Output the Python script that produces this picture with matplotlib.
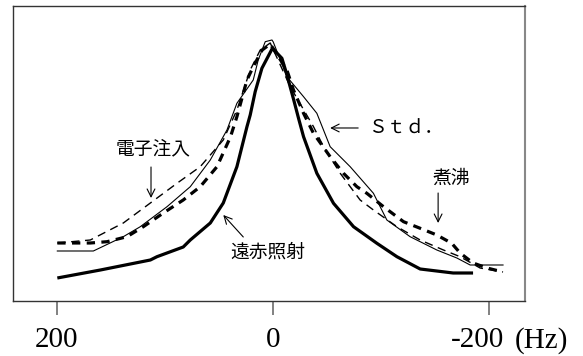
import matplotlib
matplotlib.use("Agg")
import matplotlib.pyplot as plt
from matplotlib.transforms import ScaledTranslation

plt.rcParams['font.family'] = ['Noto Sans CJK JP', 'DejaVu Sans']

# 周波数 (Hz) と強度 (任意単位)
# 遠赤照射 (太い実線)
far_ir_hz = [199.3, 159.5, 113.3, 107.2, 82.9, 76.4, 57.9, 45.9, 33.3, 24.0, 21.0, 16.4,
             10.2, 0.5, -8.3, -12.7, -19.0, -23.6, -28.3, -40.6, -56.0, -74.5, -96.1,
             -114.6, -136.1, -166.6, -185.0]
far_ir_val = [23, 31, 41, 44.3, 54, 61, 78, 98, 134.3, 174.3, 186, 209.3,
              232.7, 252.7, 242.7, 227, 202, 183, 164.3, 127.7, 97.7, 74.3, 57.7,
              44.3, 32, 28, 28]

# Std. (細い実線)
std_hz = [199.3, 166.0, 138.3, 122.6, 97.9, 76.4, 57.9, 42.5, 33.3, 18.2, 13.6, 7.1, 0.9,
          -0.3, -12.9, -28.3, -40.6, -52.9, -71.4, -92.9, -105.3, -126.8, -151.5,
          -170.0, -182.3, -212.7]
std_val = [50, 50, 64.3, 74.3, 94.3, 114.3, 141, 171, 197.7, 221, 241, 259.3, 261,
           259, 224.3, 204.3, 187.7, 154.3, 134.3, 107.7, 81, 64.3, 51,
           43, 36, 36]

# 電子注入 (細い破線)
elec_hz = [199.3, 168.8, 138.3, 113.3, 88.7, 67.2, 45.9, 33.3, 21.0, 11.7, 2.5,
           -16.0, -37.5, -46.8, -62.2, -80.6, -92.9, -114.6, -136.1, -157.6,
           -173.0, -191.5, -212.7]
elec_val = [58, 61, 78, 98, 117.7, 134.3, 161, 191, 231, 251, 258,
            214.3, 174.3, 154.3, 127.7, 101, 91, 74.3, 61, 51,
            44.3, 33, 29]

# 煮沸 (太い破線)
boil_hz = [199.3, 168.8, 153.3, 134.9, 119.8, 101.3, 82.9, 67.2, 51.7, 39.2, 33.3, 24.0,
           18.2, 9.9, 2.5, -12.9, -19.0, -28.3, -37.5, -52.9, -65.2, -77.6, -86.8,
           -102.2, -120.7, -136.1, -151.5, -165.3, -173.0, -185.0, -197.9, -212.7]
boil_val = [58, 58, 59.3, 64.3, 74.3, 88, 101, 114.3, 134.3, 164.3, 184.3, 221,
            234.3, 251, 257, 231, 211, 187.7, 167.7, 144.3, 127.7, 114.3, 107.7,
            94.3, 79.3, 72.7, 66, 57.7, 48, 38, 33, 29]

tick_pos = [200, 0, -200]
tick_lab = ['200', '0', '-200']

fig = plt.figure(figsize=(5.83, 3.56), dpi=100)
ax = fig.add_axes([0.0228, 0.1545, 0.8777, 0.8287])

ax.plot(far_ir_hz, far_ir_val, color='black', lw=2.3, solid_capstyle='butt')
ax.plot(std_hz, std_val, color='black', lw=0.8)
ax.plot(elec_hz, elec_val, color='black', lw=1.0, linestyle=(0, (6, 4)))
ax.plot(boil_hz, boil_val, color='black', lw=2.3, linestyle=(0, (2.6, 2.0)))

ax.set_xlim(240, -233)
ax.set_ylim(0, 295)
ax.set_yticks([])
ax.set_xticks(tick_pos)
ax.set_xticklabels(tick_lab, fontfamily='Liberation Serif', fontsize=21)
ax.tick_params(axis='x', length=10, width=1.3, color='#777777', pad=9)
# -200 のラベルは少し左へ
lab = ax.get_xticklabels()[-1]
lab.set_transform(lab.get_transform() + ScaledTranslation(-0.12, 0, fig.dpi_scale_trans))

for s in ['left', 'bottom', 'top']:
    ax.spines[s].set_color('#333333')
    ax.spines[s].set_linewidth(1.0)
ax.spines['right'].set_color('#888888')
ax.spines['right'].set_linewidth(1.5)

# 単位
ax.annotate('(Hz)', xy=(-248, 0), xycoords=('data', 'axes fraction'),
            xytext=(0, -19), textcoords='offset points', ha='center', va='top',
            fontfamily='Liberation Serif', fontsize=21, annotation_clip=False)

arrow = dict(arrowstyle='->', color='black', lw=0.8, shrinkA=0, shrinkB=0,
             mutation_scale=14)

ax.text(111, 152, '電子注入', ha='center', va='center', fontsize=13.5)
ax.annotate('', xy=(112.7, 103), xytext=(112.7, 134), arrowprops=arrow)

ax.text(4.8, 49, '遠赤照射', ha='center', va='center', fontsize=13.5)
ax.annotate('', xy=(45.9, 86), xytext=(27.4, 64), arrowprops=arrow)

ax.text(-88, 173, 'Ｓｔｄ．', ha='left', va='center', fontsize=13.5)
ax.annotate('', xy=(-52.9, 173), xytext=(-78.8, 173), arrowprops=arrow)

ax.text(-164.7, 123, '煮沸', ha='center', va='center', fontsize=13.5)
ax.annotate('', xy=(-152.7, 78), xytext=(-152.7, 108), arrowprops=arrow)

fig.savefig('out.png', dpi=100)
